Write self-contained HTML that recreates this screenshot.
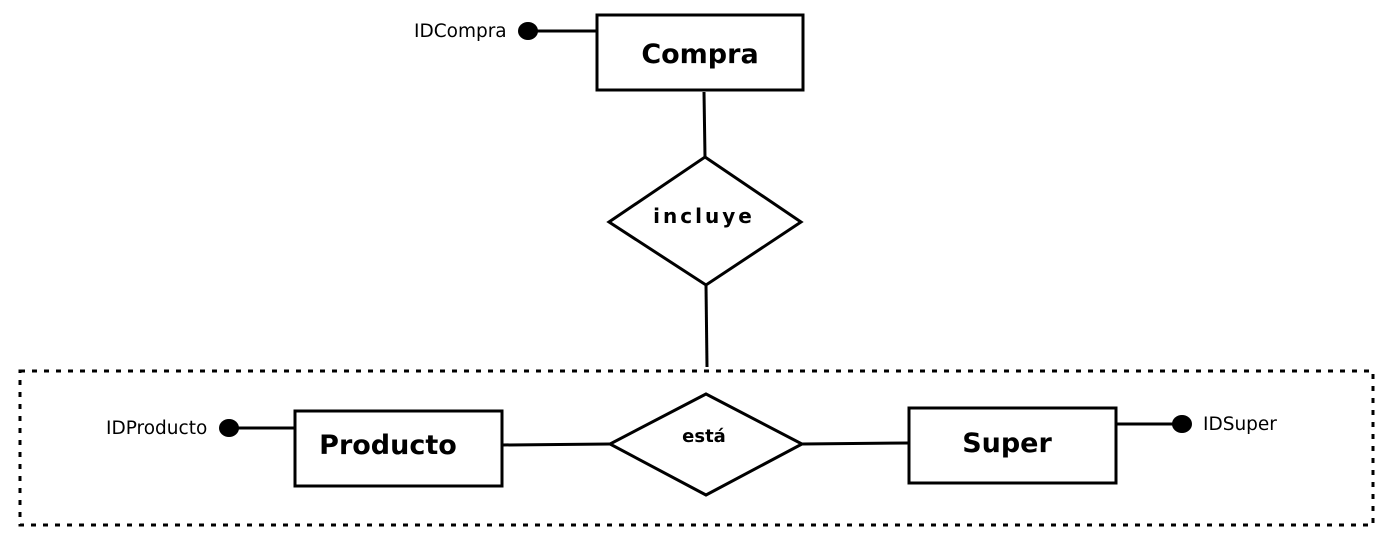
<!DOCTYPE html>
<html><head><meta charset="utf-8"><style>
html,body{margin:0;padding:0;background:#fff;}
svg{display:block;}
text{font-family:"DejaVu Sans","Liberation Sans",sans-serif;fill:#000;}
</style></head><body>
<svg width="1395" height="546" viewBox="0 0 1395 546" xmlns="http://www.w3.org/2000/svg">
<g stroke="#000" stroke-width="3" fill="none">
<rect x="597" y="15" width="206" height="75" fill="#fff"/>
<line x1="528" y1="31" x2="597" y2="31"/>
<line x1="704" y1="92" x2="705" y2="157"/>
<polygon points="705,157 801,222 706,285 609,222" fill="#fff"/>
<line x1="706" y1="285" x2="707" y2="367"/>
<rect x="20" y="371" width="1353" height="154" stroke-dasharray="5,7"/>
<rect x="295" y="411" width="207" height="75" fill="#fff"/>
<line x1="229" y1="428" x2="295" y2="428"/>
<line x1="502" y1="445" x2="610" y2="444"/>
<polygon points="706,394 802,444 706,495 610,444" fill="#fff"/>
<line x1="802" y1="444" x2="909" y2="443"/>
<rect x="909" y="408" width="207" height="75" fill="#fff"/>
<line x1="1116" y1="424" x2="1182" y2="424"/>
</g>
<g fill="#000">
<ellipse cx="528" cy="31" rx="10" ry="9"/>
<ellipse cx="229" cy="428" rx="10" ry="9"/>
<ellipse cx="1182" cy="424" rx="10" ry="9"/>
</g>
<text x="700" y="63" font-size="27" font-weight="bold" text-anchor="middle">Compra</text>
<text x="704" y="223" font-size="20" font-weight="bold" text-anchor="middle" letter-spacing="3">incluye</text>
<text x="704" y="442" font-size="18" font-weight="bold" text-anchor="middle">está</text>
<text x="388" y="454" font-size="27" font-weight="bold" text-anchor="middle">Producto</text>
<text x="1007" y="452" font-size="27" font-weight="bold" text-anchor="middle">Super</text>
<text x="414" y="37" font-size="18.5">IDCompra</text>
<text x="106" y="434" font-size="18.5">IDProducto</text>
<text x="1203" y="430" font-size="18.5">IDSuper</text>
</svg>
</body></html>
